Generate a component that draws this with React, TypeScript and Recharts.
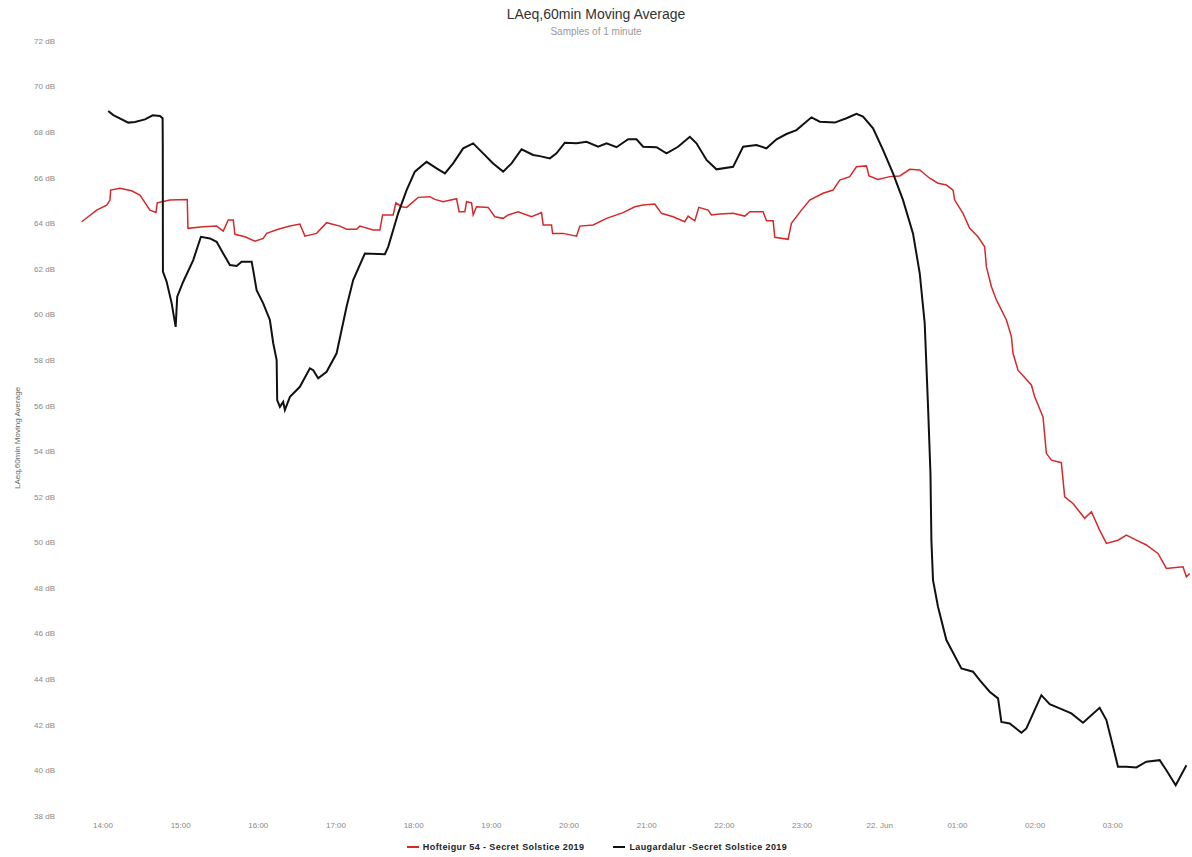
import { LineChart, Line, XAxis, YAxis, Legend } from 'recharts';

// hours since 00:00 on 21 Jun (24 = 22. Jun 00:00), LAeq dB
const laugardalur: [number, number][] = [
  [14.068, 68.93], [14.133, 68.75], [14.326, 68.42], [14.412, 68.45], [14.541, 68.56],
  [14.64, 68.74], [14.734, 68.71], [14.768, 68.61], [14.77, 67.36], [14.772, 61.88],
  [14.82, 61.44], [14.884, 60.5], [14.936, 59.46], [14.956, 60.78], [15.033, 61.44],
  [15.162, 62.39], [15.261, 63.41], [15.377, 63.34], [15.463, 63.19], [15.548, 62.68],
  [15.634, 62.17], [15.721, 62.13], [15.785, 62.32], [15.914, 62.32], [15.934, 61.95],
  [15.978, 61.07], [16.063, 60.49], [16.149, 59.76], [16.192, 58.74], [16.236, 58.0],
  [16.243, 56.25], [16.278, 55.95], [16.32, 56.17], [16.342, 55.81], [16.407, 56.39],
  [16.535, 56.83], [16.664, 57.64], [16.707, 57.56], [16.771, 57.2], [16.879, 57.49],
  [17.008, 58.3], [17.136, 60.34], [17.221, 61.51], [17.372, 62.68], [17.629, 62.65],
  [17.672, 62.97], [17.8, 64.44], [17.909, 65.46], [18.015, 66.27], [18.166, 66.7],
  [18.295, 66.41], [18.402, 66.19], [18.508, 66.63], [18.637, 67.29], [18.766, 67.51],
  [18.894, 67.07], [19.023, 66.63], [19.152, 66.27], [19.26, 66.63], [19.389, 67.25],
  [19.538, 67.0], [19.624, 66.95], [19.753, 66.85], [19.839, 67.07], [19.946, 67.54],
  [20.097, 67.51], [20.225, 67.58], [20.375, 67.36], [20.483, 67.51], [20.611, 67.34],
  [20.761, 67.69], [20.869, 67.69], [20.954, 67.36], [21.126, 67.34], [21.255, 67.07],
  [21.404, 67.36], [21.555, 67.8], [21.641, 67.51], [21.77, 66.78], [21.898, 66.37],
  [22.112, 66.48], [22.241, 67.36], [22.413, 67.44], [22.542, 67.29], [22.671, 67.69],
  [22.799, 67.92], [22.928, 68.09], [23.121, 68.65], [23.228, 68.46], [23.421, 68.42],
  [23.571, 68.61], [23.7, 68.8], [23.785, 68.68], [23.914, 68.17], [24.042, 67.22],
  [24.171, 66.19], [24.3, 65.02], [24.428, 63.56], [24.515, 61.81], [24.579, 59.61],
  [24.622, 55.95], [24.653, 53.03], [24.665, 50.1], [24.686, 48.35], [24.75, 47.18],
  [24.858, 45.72], [25.051, 44.47], [25.201, 44.33], [25.287, 43.96], [25.415, 43.45],
  [25.523, 43.16], [25.566, 42.13], [25.673, 42.06], [25.824, 41.65], [25.888, 41.84],
  [26.081, 43.3], [26.188, 42.91], [26.317, 42.72], [26.467, 42.5], [26.617, 42.09],
  [26.831, 42.75], [26.918, 42.21], [27.004, 41.04], [27.067, 40.16], [27.175, 40.16],
  [27.304, 40.13], [27.432, 40.38], [27.604, 40.45], [27.69, 40.01], [27.81, 39.35],
  [27.948, 40.23],
];

const hofteigur: [number, number][] = [
  [13.726, 64.07], [13.919, 64.58], [14.048, 64.8], [14.09, 65.02], [14.099, 65.46],
  [14.219, 65.54], [14.369, 65.43], [14.476, 65.24], [14.605, 64.58], [14.682, 64.48],
  [14.699, 64.9], [14.862, 65.02], [15.085, 65.05], [15.094, 63.78], [15.291, 63.85],
  [15.463, 63.88], [15.548, 63.66], [15.613, 64.15], [15.677, 64.15], [15.699, 63.52],
  [15.828, 63.41], [15.956, 63.22], [16.063, 63.34], [16.107, 63.56], [16.256, 63.74],
  [16.407, 63.88], [16.535, 63.97], [16.6, 63.44], [16.75, 63.56], [16.879, 64.03],
  [17.05, 63.88], [17.136, 63.74], [17.265, 63.74], [17.308, 63.88], [17.479, 63.71],
  [17.565, 63.71], [17.6, 64.37], [17.736, 64.37], [17.771, 64.9], [17.844, 64.73],
  [17.909, 64.7], [18.058, 65.14], [18.208, 65.17], [18.273, 65.05], [18.38, 64.95],
  [18.552, 65.08], [18.585, 64.51], [18.659, 64.51], [18.681, 64.95], [18.745, 64.9],
  [18.766, 64.37], [18.809, 64.73], [18.959, 64.7], [19.045, 64.29], [19.152, 64.22],
  [19.216, 64.37], [19.345, 64.51], [19.517, 64.29], [19.646, 64.47], [19.667, 63.93],
  [19.775, 63.93], [19.788, 63.56], [19.924, 63.56], [20.097, 63.44], [20.139, 63.88],
  [20.31, 63.93], [20.483, 64.22], [20.696, 64.47], [20.847, 64.73], [20.954, 64.8],
  [21.104, 64.85], [21.19, 64.44], [21.34, 64.29], [21.49, 64.07], [21.533, 64.32],
  [21.619, 64.11], [21.671, 64.7], [21.79, 64.58], [21.834, 64.37], [21.941, 64.41],
  [22.112, 64.44], [22.263, 64.32], [22.327, 64.51], [22.498, 64.51], [22.542, 64.11],
  [22.628, 64.11], [22.649, 63.39], [22.82, 63.3], [22.863, 64.0], [22.992, 64.58],
  [23.099, 65.02], [23.27, 65.32], [23.399, 65.46], [23.485, 65.9], [23.614, 66.05],
  [23.7, 66.48], [23.829, 66.52], [23.862, 66.08], [23.978, 65.93], [24.129, 66.05],
  [24.257, 66.08], [24.386, 66.37], [24.515, 66.34], [24.643, 65.98], [24.75, 65.76],
  [24.858, 65.68], [24.944, 65.46], [24.965, 65.02], [25.072, 64.44], [25.158, 63.78],
  [25.265, 63.41], [25.351, 62.97], [25.373, 62.1], [25.438, 61.22], [25.502, 60.64],
  [25.631, 59.76], [25.695, 59.03], [25.716, 58.3], [25.78, 57.56], [25.952, 56.91],
  [25.995, 56.39], [26.102, 55.51], [26.145, 53.91], [26.21, 53.61], [26.338, 53.5],
  [26.381, 52.0], [26.488, 51.71], [26.638, 51.06], [26.725, 51.35], [26.831, 50.54],
  [26.918, 49.96], [27.067, 50.1], [27.175, 50.32], [27.304, 50.1], [27.432, 49.89],
  [27.582, 49.52], [27.69, 48.86], [27.904, 48.93], [27.948, 48.49], [27.99, 48.64],
];

const hourTicks = [14, 15, 16, 17, 18, 19, 20, 21, 22, 23, 24, 25, 26, 27];
const dbTicks = [38, 40, 42, 44, 46, 48, 50, 52, 54, 56, 58, 60, 62, 64, 66, 68, 70, 72];

const FONT = '"Liberation Sans", Arial, sans-serif';
const RED = '#d42a2a';
const BLACK = '#111';

function formatHour(h: number) {
  if (h === 24) return '22. Jun';
  const hh = h % 24;
  return `${hh < 10 ? '0' : ''}${hh}:00`;
}

function LegendContent({ payload }: { payload?: any[] }) {
  return (
    <div style={{ display: 'flex', justifyContent: 'center', gap: 29, height: 21, alignItems: 'center', paddingLeft: 2 }}>
      {(payload ?? []).map(it => (
        <span key={it.value} style={{ display: 'flex', alignItems: 'center', fontFamily: FONT, fontSize: 9, fontWeight: 'bold', color: '#222', letterSpacing: 0.4 }}>
          <span style={{ display: 'inline-block', width: 12, height: 2, background: it.color, marginRight: 4 }} />
          {it.value}
        </span>
      ))}
    </div>
  );
}

function AxisTitle() {
  return (
    <text x={20} y={438} transform="rotate(-90 20 438)" textAnchor="middle" fill="#666" fontSize={8} fontFamily={FONT}>
      LAeq,60min Moving Average
    </text>
  );
}

export default function App() {
  const black = laugardalur.map(([t, v]) => ({ t, v }));
  const red = hofteigur.map(([t, v]) => ({ t, v }));

  return (
    <div style={{ position: 'absolute', left: 0, top: 0, width: 1192, height: 857, background: '#fff' }}>
      <div style={{ position: 'absolute', top: 6, width: 1192, textAlign: 'center', fontFamily: FONT, fontSize: 14, color: '#333' }}>
        LAeq,60min Moving Average
      </div>
      <div style={{ position: 'absolute', top: 26, width: 1192, textAlign: 'center', fontFamily: FONT, fontSize: 10, color: '#999' }}>
        Samples of 1 minute
      </div>
      <LineChart width={1192} height={857} margin={{ top: 41, right: 0, bottom: 0, left: 0 }}>
        <XAxis
          dataKey="t"
          type="number"
          domain={[13.64, 28.02]}
          ticks={hourTicks}
          tickFormatter={formatHour}
          allowDataOverflow
          axisLine={false}
          tickLine={false}
          tickSize={4}
          height={20}
          tick={{ fill: '#888', fontSize: 8, fontFamily: FONT }}
        />
        <YAxis
          type="number"
          domain={[38, 72]}
          ticks={dbTicks}
          tickFormatter={(v: number) => `${v} dB`}
          axisLine={false}
          tickLine={false}
          width={75}
          tickSize={10}
          tickMargin={10}
          tick={{ fill: '#888', fontSize: 8, fontFamily: FONT }}
          label={<AxisTitle />}
        />
        <Legend verticalAlign="bottom" height={21} content={<LegendContent />} />
        <Line data={red} dataKey="v" name="Hofteigur 54 - Secret Solstice 2019" type="linear" stroke={RED} strokeWidth={1.5} dot={false} isAnimationActive={false} />
        <Line data={black} dataKey="v" name="Laugardalur -Secret Solstice 2019" type="linear" stroke={BLACK} strokeWidth={2} dot={false} isAnimationActive={false} />
      </LineChart>
    </div>
  );
}
